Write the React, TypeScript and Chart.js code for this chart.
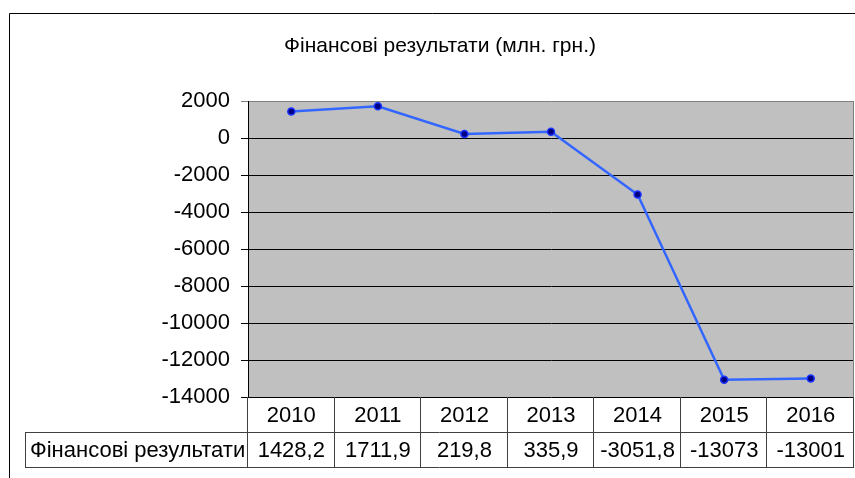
import React, { useEffect, useRef } from 'react';
import { Chart, registerables } from 'chart.js';

Chart.register(...registerables);

const title = 'Фінансові результати (млн. грн.)';
const seriesName = 'Фінансові результати';
const categories = ['2010', '2011', '2012', '2013', '2014', '2015', '2016'];
const values = [1428.2, 1711.9, 219.8, 335.9, -3051.8, -13073, -13001];
const tableLabels = ['1428,2', '1711,9', '219,8', '335,9', '-3051,8', '-13073', '-13001'];
const yMin = -14000;
const yMax = 2000;
const yStep = 2000;

const FONT = '"Liberation Sans", Arial, sans-serif';

const framePlugin = {
  id: 'framePlugin',
  beforeDraw(chart: any) {
    const { ctx, chartArea: a, width, height } = chart;
    ctx.save();
    ctx.fillStyle = '#ffffff';
    ctx.fillRect(0, 0, width, height);
    ctx.fillStyle = '#c0c0c0';
    ctx.fillRect(a.left, a.top, a.right - a.left, a.bottom - a.top);
    ctx.restore();
  },
  afterDraw(chart: any) {
    const { ctx, chartArea: a, width, height } = chart;
    const xs = chart.scales.x;
    ctx.save();
    // outer frame
    ctx.strokeStyle = '#000000';
    ctx.lineWidth = 1;
    ctx.beginPath();
    ctx.moveTo(9.5, height + 5);
    ctx.lineTo(9.5, 13.5);
    ctx.lineTo(width + 5, 13.5);
    ctx.stroke();
    // plot right border
    ctx.strokeStyle = '#808080';
    ctx.beginPath();
    ctx.moveTo(Math.round(a.right) - 0.5, a.top);
    ctx.lineTo(Math.round(a.right) - 0.5, a.bottom);
    ctx.stroke();
    // title
    ctx.fillStyle = '#000000';
    ctx.font = '21px ' + FONT;
    ctx.textAlign = 'center';
    ctx.textBaseline = 'middle';
    ctx.fillText(title, 440, 46);
    // data table
    const n = categories.length;
    const cw = (a.right - a.left) / n;
    const r0 = a.bottom;
    const r1 = a.bottom + 35;
    const r2 = a.bottom + 70;
    const labelLeft = 25;
    ctx.strokeStyle = '#404040';
    ctx.beginPath();
    ctx.moveTo(labelLeft, Math.round(r1) + 0.5);
    ctx.lineTo(a.right, Math.round(r1) + 0.5);
    ctx.moveTo(labelLeft, Math.round(r2) + 0.5);
    ctx.lineTo(a.right, Math.round(r2) + 0.5);
    ctx.moveTo(labelLeft + 0.5, r1);
    ctx.lineTo(labelLeft + 0.5, r2);
    for (let i = 0; i <= n; i++) {
      const x = Math.round(a.left + i * cw) - 0.5;
      ctx.moveTo(x, r0);
      ctx.lineTo(x, r2);
    }
    ctx.stroke();
    ctx.fillStyle = '#000000';
    ctx.font = '22px ' + FONT;
    ctx.textAlign = 'center';
    ctx.textBaseline = 'middle';
    for (let i = 0; i < n; i++) {
      const cx = xs.getPixelForValue(i);
      ctx.fillText(categories[i], cx, (r0 + r1) / 2 + 1);
      ctx.fillText(tableLabels[i], cx, (r1 + r2) / 2 + 1);
    }
    ctx.textAlign = 'left';
    ctx.fillText(seriesName, labelLeft + 5, (r1 + r2) / 2 + 1);
    ctx.restore();
  },
};

export default function App() {
  const ref = useRef<HTMLCanvasElement>(null);
  useEffect(() => {
    document.body.style.margin = '0';
    const chart = new Chart(ref.current!, {
      type: 'line',
      data: {
        labels: categories,
        datasets: [
          {
            label: seriesName,
            data: values,
            borderColor: '#3366ff',
            borderWidth: 2.5,
            pointRadius: 3.5,
            pointBackgroundColor: '#000080',
            pointBorderColor: '#1a33ff',
            pointBorderWidth: 1.5,
            tension: 0,
          },
        ],
      },
      options: {
        responsive: false,
        animation: false,
        layout: { autoPadding: false, padding: { top: 101, bottom: 81, right: 1, left: 0 } },
        plugins: { legend: { display: false }, title: { display: false }, tooltip: { enabled: false } },
        scales: {
          x: { display: false, offset: true },
          y: {
            min: yMin,
            max: yMax,
            afterFit: (s: any) => { s.width = 248; },
            border: { display: true, color: '#000000', width: 1 },
            grid: {
              color: (c: any) => (c.tick && c.tick.value === yMax ? '#808080' : '#000000'),
              lineWidth: 1,
              tickLength: 7,
            },
            ticks: {
              stepSize: yStep,
              color: '#000000',
              padding: 11,
              font: { family: FONT, size: 22 },
              callback: (v: any) => String(v),
            },
          },
        },
      },
      plugins: [framePlugin],
    });
    return () => chart.destroy();
  }, []);
  return (
    <div style={{ position: 'absolute', left: 0, top: 0, width: 855, height: 478 }}>
      <canvas ref={ref} width={855} height={478} style={{ display: 'block' }} />
    </div>
  );
}
